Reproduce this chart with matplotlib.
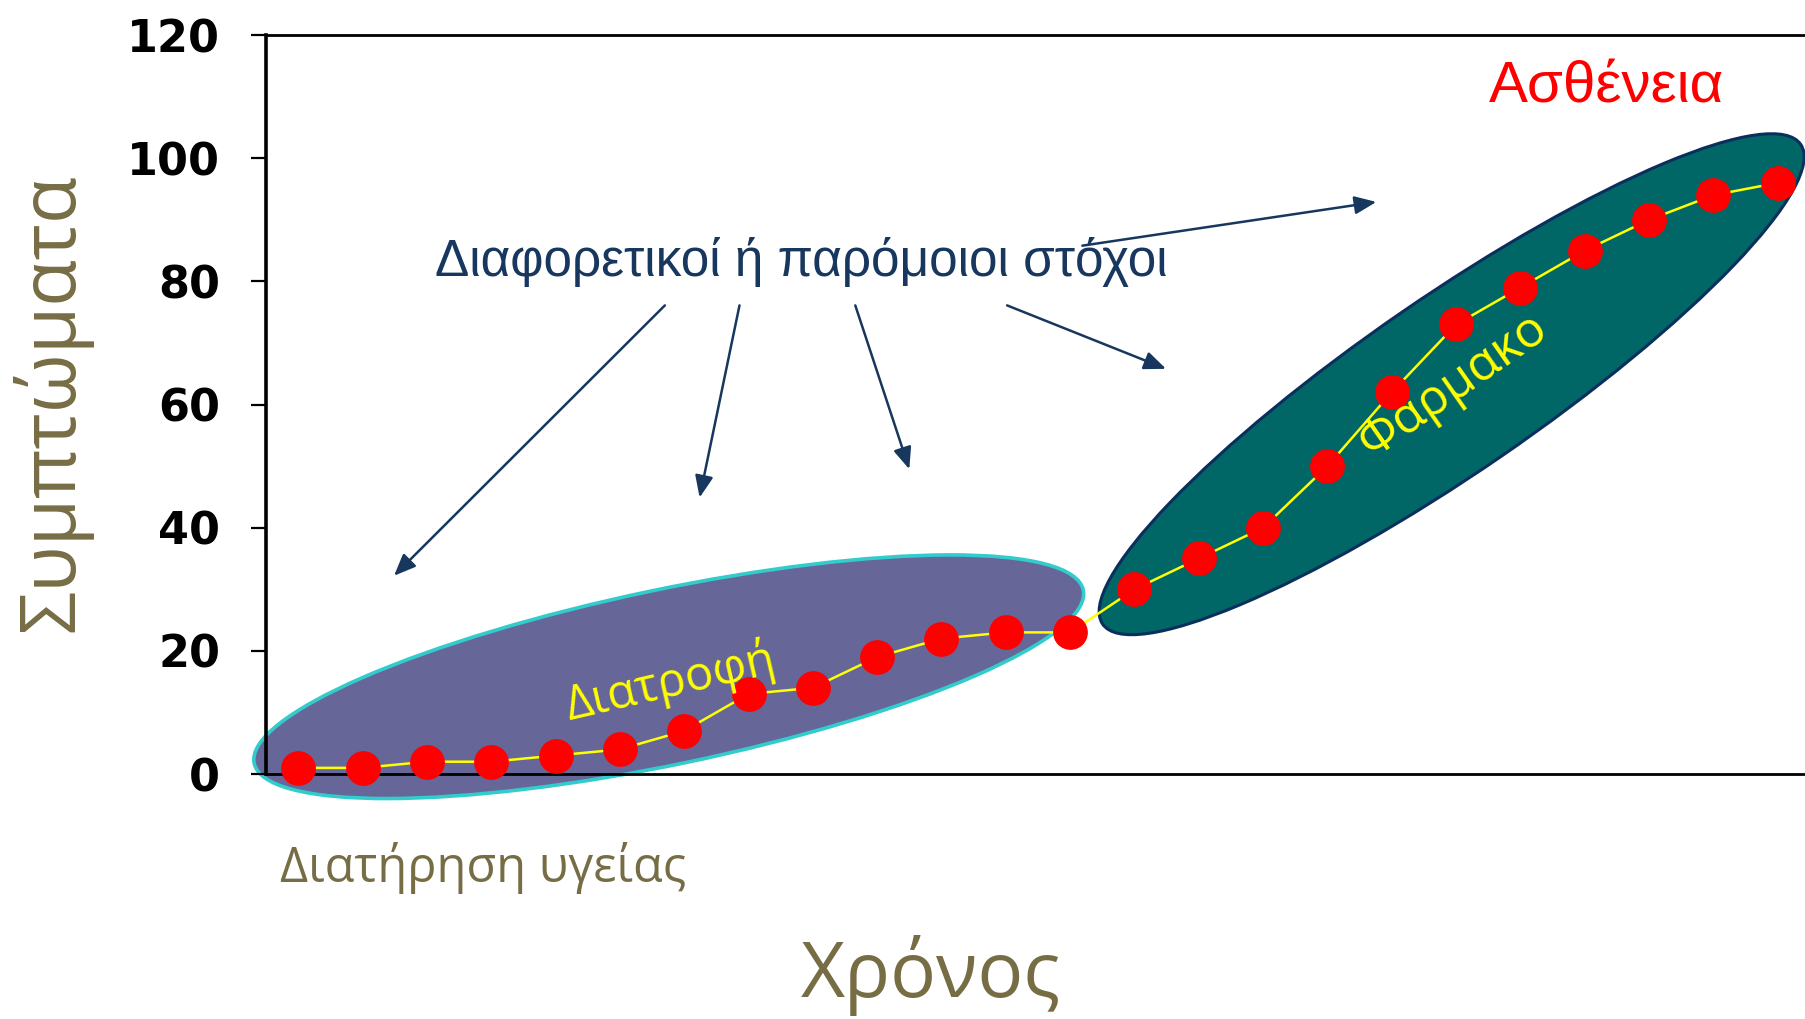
import matplotlib.pyplot as plt
from matplotlib.patches import Ellipse
from matplotlib.transforms import ScaledTranslation

# time steps (categories on x) and symptom levels
time_steps = [1, 2, 3, 4, 5, 6, 7, 8, 9, 10, 11, 12,
              13, 14, 15, 16, 17, 18, 19, 20, 21, 22, 23, 24]
symptoms = [1, 1, 2, 2, 3, 4, 7, 13, 14, 19, 22, 23,
            23, 30, 35, 40, 50, 62, 73, 79, 85, 90, 94, 96]
y_ticks = [0, 20, 40, 60, 80, 100, 120]

olive = '#776D45'
navy = '#17375E'

fig = plt.figure(figsize=(18.06, 10.19), dpi=100)
ax = fig.add_axes([0.1473, 0.2404, 0.8727, 0.7252])
ax.set_xlim(0.5, 25)
ax.set_ylim(0, 120)

# the two zones (same ellipse size, fixed in inches, centred on data points)
zones = [
    # center x, center y, angle, face, edge, edge width
    (6.76, 15.8, 11.8, '#666699', '#33CCCC', 2.6),
    (18.93, 63.3, 34.5, '#006666', '#0B2F5C', 2.2),
]
for cx, cy, ang, fc, ec, lw in zones:
    ell = Ellipse((0, 0), 8.47, 1.75, angle=ang, facecolor=fc, edgecolor=ec,
                  linewidth=lw, zorder=1, clip_on=False,
                  transform=fig.dpi_scale_trans + ScaledTranslation(cx, cy, ax.transData))
    ax.add_patch(ell)

ax.plot(time_steps, symptoms, color='#FFFF00', linewidth=1.8, marker='o',
        markersize=24, markerfacecolor='#FF0000', markeredgecolor='#FF0000',
        zorder=4, clip_on=False)

# spines / ticks
for side in ['top', 'left', 'bottom']:
    ax.spines[side].set_linewidth(2)
    ax.spines[side].set_color('black')
ax.spines['left'].set_linewidth(2.6)
ax.spines['right'].set_visible(False)
ax.set_xticks([])
ax.set_yticks(y_ticks)
ax.tick_params(axis='y', direction='out', length=11, width=1.6, pad=22,
               labelsize=32, labelcolor='black')
for lab in ax.get_yticklabels():
    lab.set_fontweight('heavy')
    lab.set_family('DejaVu Sans')

# arrows from the "targets" text
arrows = [
    ((6.70, 76.1), (2.49, 32.2)),
    ((7.86, 76.1), (7.24, 44.9)),
    ((9.66, 76.1), (10.50, 49.5)),
    ((12.02, 76.1), (14.49, 65.8)),
    ((13.19, 85.8), (17.76, 92.9)),
]
for start, end in arrows:
    ax.annotate('', xy=end, xytext=start,
                arrowprops=dict(arrowstyle='-|>,head_length=0.6,head_width=0.25',
                                color=navy, lw=1.8, mutation_scale=22,
                                shrinkA=0, shrinkB=0), zorder=3)

ax.text(8.82, 80.8, 'Διαφορετικοί ή παρόμοιοι στόχοι', color=navy,
        fontsize=37, family='Liberation Sans', ha='center', va='baseline', zorder=5)
ax.text(21.34, 109.1, 'Ασθένεια', color='#FF0000', fontsize=42,
        family='Liberation Sans', ha='center', va='baseline')
ax.text(6.78, 14.9, 'Διατροφή', color='#FFFF00', fontsize=34, family='Open Sans',
        rotation=13, rotation_mode='anchor', ha='center', va='center', zorder=5)
ax.text(18.96, 63.0, 'Φαρμακο', color='#FFFF00', fontsize=36, family='Open Sans',
        rotation=35, rotation_mode='anchor', ha='center', va='center', zorder=5)
ax.text(0.009, -0.146, 'Διατήρηση υγείας', color=olive, fontsize=35,
        family='Open Sans', ha='left', va='baseline', transform=ax.transAxes)

ax.set_xlabel('Χρόνος', color=olive, fontsize=55, family='Open Sans', va='baseline')
ax.xaxis.set_label_coords(0.4218, -0.302)
ax.set_ylabel('Συμπτώματα', color=olive, fontsize=55, family='Open Sans', va='baseline')
ax.yaxis.set_label_coords(-0.1225, 0.502)

fig.savefig('out.png', dpi=100)
